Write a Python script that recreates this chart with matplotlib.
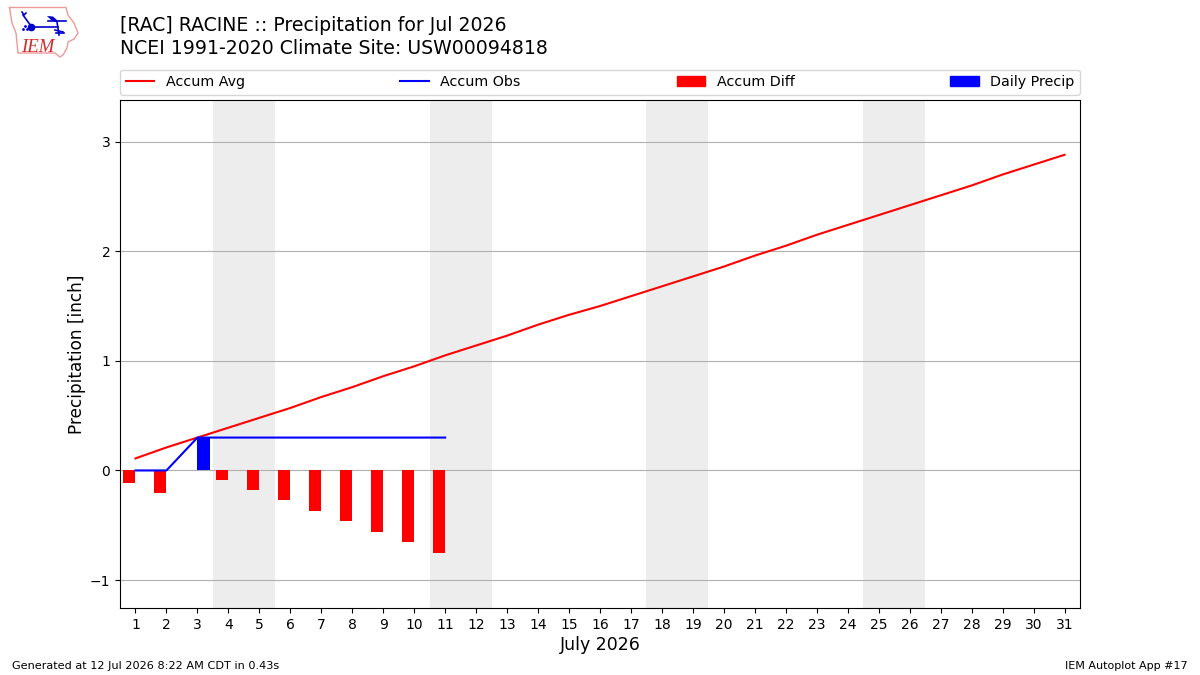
import matplotlib
matplotlib.use("Agg")
import matplotlib.pyplot as plt
from matplotlib.patches import Patch

days = list(range(1, 32))
accum_avg = [0.11, 0.21, 0.30, 0.39, 0.48, 0.57, 0.67, 0.76, 0.86, 0.95, 1.05,
             1.14, 1.23, 1.33, 1.42, 1.50, 1.59, 1.68, 1.77, 1.86, 1.96, 2.05,
             2.15, 2.24, 2.33, 2.42, 2.51, 2.60, 2.70, 2.79, 2.88]
obs_days = [1, 2, 3, 4, 5, 6, 7, 8, 9, 10, 11]
accum_obs = [0.0, 0.0, 0.30, 0.30, 0.30, 0.30, 0.30, 0.30, 0.30, 0.30, 0.30]
accum_diff = [-0.11, -0.21, 0.0, -0.09, -0.18, -0.27, -0.37, -0.46, -0.56, -0.65, -0.75]
daily_precip = [0.0, 0.0, 0.30, 0.0, 0.0, 0.0, 0.0, 0.0, 0.0, 0.0, 0.0]
weekend_spans = [(3.5, 5.5), (10.5, 12.5), (17.5, 19.5), (24.5, 26.5)]

# Outline of the state and the weather-station glyph for the logo, in logo units
state_x = [9.5, 66, 68, 74, 78, 74, 68, 67, 63, 60, 55, 18, 16, 12, 9.5]
state_y = [7.5, 7.5, 15, 23, 33, 39, 42, 48, 55, 57, 53, 53, 33, 23, 7.5]
glyph_lines = [
    ([31, 23], [26, 15]), ([22, 24, 26], [12, 15, 13]),
    ([31, 58], [27, 27]), ([48, 66], [21, 21]), ([57, 59], [22, 35]),
    ([55, 63], [30, 32]), ([56, 64], [33, 33]),
]
bird_x = [47, 53, 58, 56, 51]
bird_y = [16, 16.5, 21, 22, 20]

fig = plt.figure(figsize=(12, 6.75), dpi=100)
ax = fig.add_axes([120 / 1200, 1 - 608 / 675, 960 / 1200, 508 / 675])

for start, end in weekend_spans:
    ax.axvspan(start, end, color="#ededed", lw=0, zorder=0)

ax.bar(obs_days, accum_diff, width=-0.4, align="edge", color="#ff0000", zorder=2)
ax.bar(obs_days, daily_precip, width=0.4, align="edge", color="#0000ff", zorder=2)
ax.plot(days, accum_avg, color="#ff0000", lw=1.5, zorder=3)
ax.plot(obs_days, accum_obs, color="#0000ff", lw=1.5, zorder=3)

ax.set_xlim(0.5, 31.5)
ax.set_ylim(-1.255, 3.38)
ax.set_xticks(days)
ax.set_yticks([-1, 0, 1, 2, 3])
ax.set_yticklabels(["\u22121", "0", "1", "2", "3"])
ax.grid(axis="y", color="#b0b0b0", lw=0.8, zorder=1)
ax.set_axisbelow(True)
ax.tick_params(labelsize=10)
ax.set_xlabel("July 2026", fontsize=12.5, labelpad=3)
ax.set_ylabel("Precipitation [inch]", fontsize=12.2, labelpad=3)

handles = [
    plt.Line2D([], [], color="#ff0000", lw=1.5),
    plt.Line2D([], [], color="#0000ff", lw=1.5),
    Patch(color="#ff0000"),
    Patch(color="#0000ff"),
]
ax.legend(handles, ["Accum Avg", "Accum Obs", "Accum Diff", "Daily Precip"],
          ncol=4, mode="expand", loc="lower left", fontsize=10.3,
          bbox_to_anchor=(0, 1.0098, 1, 0.05), borderaxespad=0)

fig.text(120 / 1200, 1 - 31 / 675, "[RAC] RACINE :: Precipitation for Jul 2026", fontsize=13.6)
fig.text(120 / 1200, 1 - 54 / 675, "NCEI 1991-2020 Climate Site: USW00094818", fontsize=13.6)
fig.text(12 / 1200, 1 - 669 / 675, "Generated at 12 Jul 2026 8:22 AM CDT in 0.43s", fontsize=8.1)
fig.text(1188 / 1200, 1 - 669 / 675, "IEM Autoplot App #17", fontsize=8, ha="right")

# Logo in the top-left corner
logo = fig.add_axes([0, 1 - 60 / 675, 85 / 1200, 60 / 675])
logo.set_xlim(0, 85)
logo.set_ylim(60, 0)
logo.axis("off")
logo.plot(state_x, state_y, color="#ee9a9a", lw=1.0)
for xs, ys in glyph_lines:
    logo.plot(xs, ys, color="#0000cc", lw=1.2)
logo.fill(bird_x, bird_y, color="#0000cc", lw=0)
logo.plot([31], [26.5], "o", color="#0000cc", ms=4.5)
logo.plot([23, 25, 27], [29, 26, 29], ".", color="#0000cc", ms=2)
logo.text(21, 52.5, "IEM", family="Liberation Serif", style="italic", color="#d62828", fontsize=13.5)

fig.savefig("out.png", dpi=100)
